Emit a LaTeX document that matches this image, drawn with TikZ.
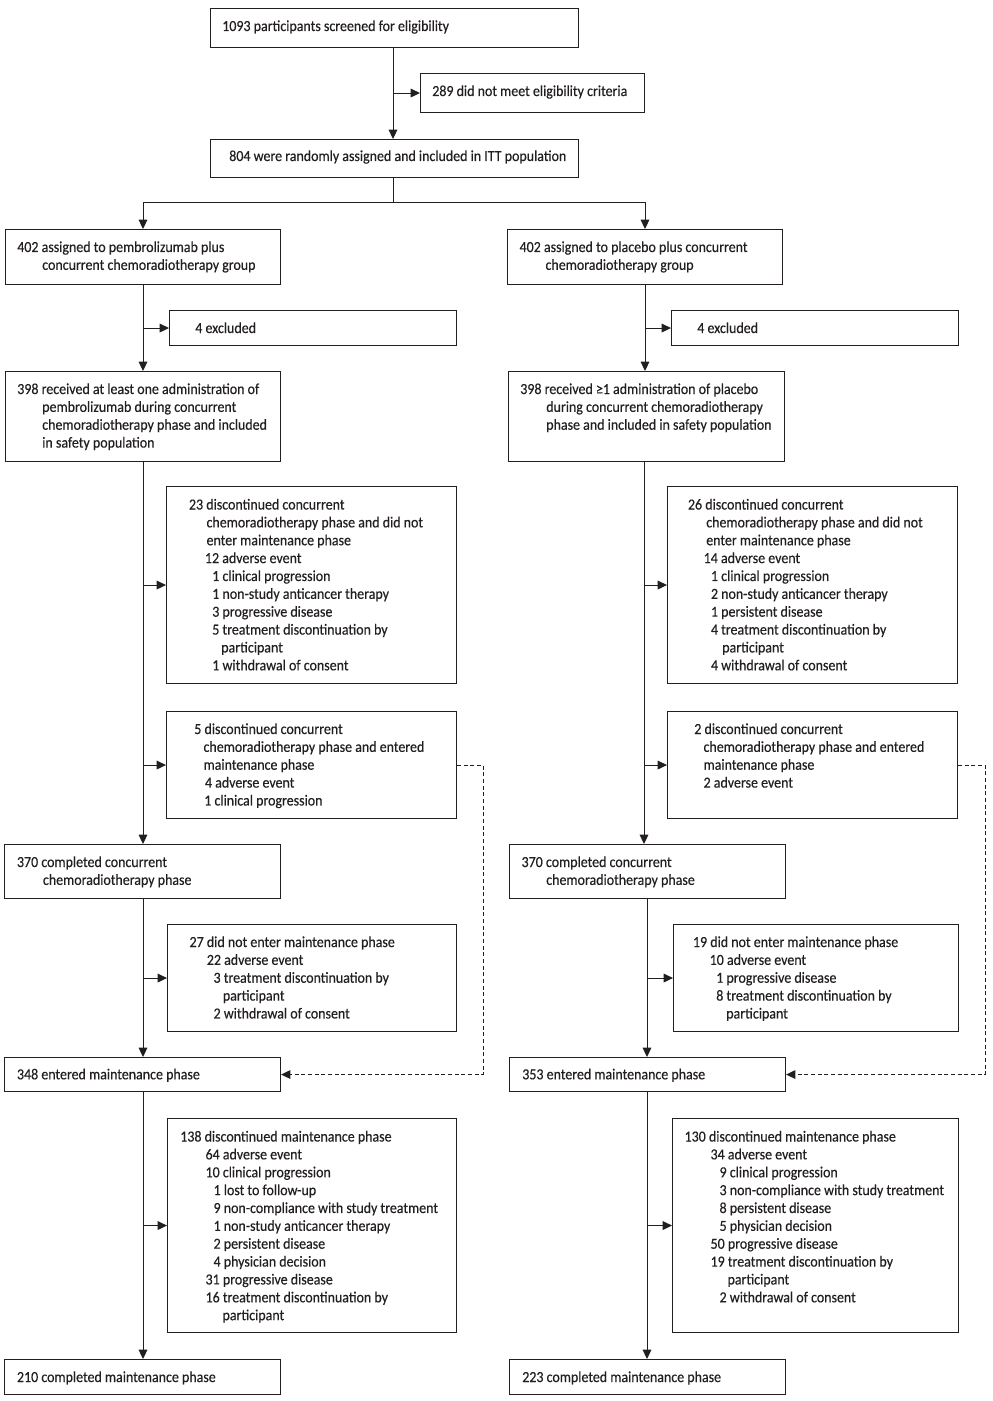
\documentclass[tikz,border=0pt]{standalone}
\usepackage{fontspec}
\setmainfont[FakeStretch=0.91,FakeBold=0.4]{Carlito}
\usetikzlibrary{arrows.meta,calc}
\definecolor{ink}{HTML}{231F20}
\newlength\pxu \setlength\pxu{0.75pt}
\newcommand\ind[1]{\hspace*{#1\pxu}}
\newcommand\bx[8]{%
 \node[boxs, minimum width={(#4-#2)*0.75pt}, minimum height={(#5-#3)*0.75pt}, anchor=north west] (#1) at (#2,#3) {};
 \node[txts, anchor=base west] (#1t) at (#6,#7) {\begin{tabular}[t]{@{}l@{}}#8\end{tabular}};
}
\tikzset{
 boxs/.style={draw=ink, line width=0.8pt, inner sep=0pt},
 txts/.style={inner sep=0pt, text=ink, font=\fontsize{11.5}{13.4}\selectfont},
 ln/.style={draw=ink, line width=0.75pt},
 arr/.style={ln, -{Triangle[length=7pt,width=6.5pt]}},
 darr/.style={arr, dash pattern=on 3pt off 2pt}
}
\begin{document}
\begin{tikzpicture}[x=0.75pt,y=-0.75pt]
\useasboundingbox (0,0) rectangle (992,1401);
% top
\bx{scr}{210}{8}{578}{47}{222}{31}{1093 participants screened for eligibility}
\bx{inel}{420}{73}{644}{112}{432}{96}{289 did not meet eligibility criteria}
\bx{rand}{210}{139}{578}{177}{229}{161}{804 were randomly assigned and included in ITT population}
% left column
\bx{pem}{5}{229}{280}{284}{17}{252}{402 assigned to pembrolizumab plus\\\ind{25}concurrent chemoradiotherapy group}
\bx{exL}{169}{310}{456}{345}{195}{333}{4 excluded}
\bx{recL}{5}{371}{280}{461}{17}{394}{398 received at least one administration of\\\ind{25}pembrolizumab during concurrent\\\ind{25}chemoradiotherapy phase and included\\\ind{25}in safety population}
\bx{dL1}{166}{486}{456}{683}{188.7}{509.5}{23 discontinued concurrent\\\ind{17.6}chemoradiotherapy phase and did not\\\ind{17.6}enter maintenance phase\\\ind{16}12 adverse event\\\ind{23.3}1 clinical progression\\\ind{23.3}1 non-study anticancer therapy\\\ind{23.3}3 progressive disease\\\ind{23.3}5 treatment discontinuation by\\\ind{32.3}participant\\\ind{23.3}1 withdrawal of consent}
\bx{dL2}{166}{711}{456}{818}{194}{734}{5 discontinued concurrent\\\ind{9.3}chemoradiotherapy phase and entered\\\ind{9.3}maintenance phase\\\ind{10.7}4 adverse event\\\ind{10}1 clinical progression}
\bx{cL}{4}{844}{280}{898}{16.7}{867}{370 completed concurrent\\\ind{26}chemoradiotherapy phase}
\bx{nL}{167}{924}{456}{1031}{189.3}{947}{27 did not enter maintenance phase\\\ind{17.3}22 adverse event\\\ind{24}3 treatment discontinuation by\\\ind{33.3}participant\\\ind{24}2 withdrawal of consent}
\bx{eL}{4}{1057}{280}{1091}{16.7}{1079.3}{348 entered maintenance phase}
\bx{mL}{167}{1118}{456}{1332}{180}{1141.5}{138 discontinued maintenance phase\\\ind{25.3}64 adverse event\\\ind{25.3}10 clinical progression\\\ind{33.3}1 lost to follow-up\\\ind{33.3}9 non-compliance with study treatment\\\ind{33.3}1 non-study anticancer therapy\\\ind{33.3}2 persistent disease\\\ind{33.3}4 physician decision\\\ind{25.3}31 progressive disease\\\ind{25.3}16 treatment discontinuation by\\\ind{42.3}participant}
\bx{fL}{4}{1359}{280}{1394}{16.7}{1382}{210 completed maintenance phase}
% right column
\bx{pla}{507}{229}{782}{284}{519.3}{252}{402 assigned to placebo plus concurrent\\\ind{26}chemoradiotherapy group}
\bx{exR}{671}{310}{958}{345}{697}{333}{4 excluded}
\bx{recR}{508}{371}{784}{461}{520}{394}{398 received ≥1 administration of placebo\\\ind{26}during concurrent chemoradiotherapy\\\ind{26}phase and included in safety population}
\bx{dR1}{667}{486}{957}{683}{687.7}{509.5}{26 discontinued concurrent\\\ind{18.3}chemoradiotherapy phase and did not\\\ind{18.3}enter maintenance phase\\\ind{15.7}14 adverse event\\\ind{23}1 clinical progression\\\ind{23}2 non-study anticancer therapy\\\ind{23}1 persistent disease\\\ind{23}4 treatment discontinuation by\\\ind{34.3}participant\\\ind{23}4 withdrawal of consent}
\bx{dR2}{667}{711}{957}{818}{694}{734}{2 discontinued concurrent\\\ind{9.3}chemoradiotherapy phase and entered\\\ind{9.3}maintenance phase\\\ind{9.3}2 adverse event}
\bx{cR}{509}{844}{785}{898}{521.3}{867}{370 completed concurrent\\\ind{24.7}chemoradiotherapy phase}
\bx{nR}{673}{924}{958}{1031}{692.7}{947}{19 did not enter maintenance phase\\\ind{16.7}10 adverse event\\\ind{23.3}1 progressive disease\\\ind{23.3}8 treatment discontinuation by\\\ind{33.3}participant}
\bx{eR}{509}{1057}{785}{1091}{522}{1079.3}{353 entered maintenance phase}
\bx{mR}{672}{1118}{958}{1332}{684.3}{1141.5}{130 discontinued maintenance phase\\\ind{26}34 adverse event\\\ind{35}9 clinical progression\\\ind{35}3 non-compliance with study treatment\\\ind{35}8 persistent disease\\\ind{35}5 physician decision\\\ind{26}50 progressive disease\\\ind{26}19 treatment discontinuation by\\\ind{43}participant\\\ind{35}2 withdrawal of consent}
\bx{fR}{509}{1359}{785}{1394}{522}{1382}{223 completed maintenance phase}
% column coordinates
\coordinate (c0) at (393,0);
\coordinate (cl) at (143,0);
\coordinate (cr) at (645,0);
\coordinate (split) at (393,203);
% connectors top
\draw[arr] (scr.south -| c0) -- (rand.north -| c0);
\draw[arr] (c0 |- inel.west) -- (inel.west);
\draw[ln] (rand.south -| c0) -- (split);
\draw[arr] (split) -| (pem.north -| cl);
\draw[arr] (split) -| (pla.north -| cr);
% left connectors
\draw[arr] (pem.south -| cl) -- (recL.north -| cl);
\draw[arr] (cl |- exL.west) -- (exL.west);
\draw[arr] (recL.south -| cl) -- (cL.north -| cl);
\draw[arr] (cl |- dL1.west) -- (dL1.west);
\draw[arr] (cl |- dL2.west) -- (dL2.west);
\draw[arr] (cL.south -| cl) -- (eL.north -| cl);
\draw[arr] (cl |- nL.west) -- (nL.west);
\draw[arr] (eL.south -| cl) -- (fL.north -| cl);
\draw[arr] (cl |- mL.west) -- (mL.west);
\draw[darr] (dL2.east) -- ++(26,0) |- (eL.east);
% right connectors
\draw[arr] (pla.south -| cr) -- (recR.north -| cr);
\draw[arr] (cr |- exR.west) -- (exR.west);
\coordinate (cr2) at (644,0);
\draw[arr] (recR.south -| cr2) -- (cR.north -| cr2);
\draw[arr] (cr2 |- dR1.west) -- (dR1.west);
\draw[arr] (cr2 |- dR2.west) -- (dR2.west);
\coordinate (cr3) at (647,0);
\draw[arr] (cR.south -| cr3) -- (eR.north -| cr3);
\draw[arr] (cr3 |- nR.west) -- (nR.west);
\draw[arr] (eR.south -| cr3) -- (fR.north -| cr3);
\draw[arr] (cr3 |- mR.west) -- (mR.west);
\draw[darr] (dR2.east) -- ++(27,0) |- (eR.east);
\end{tikzpicture}
\end{document}
